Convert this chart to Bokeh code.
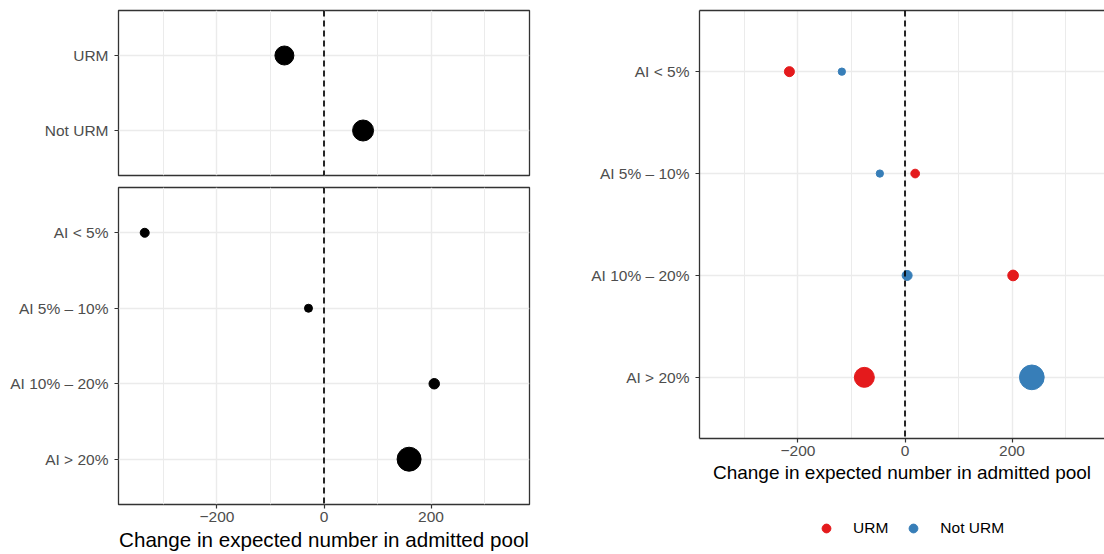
from bokeh.plotting import figure
from bokeh.models import FixedTicker, Span, Legend, LegendItem, ColumnDataSource, Range1d, LinearAxis
from bokeh.layouts import row, column
from bokeh.embed import file_html
from bokeh.resources import INLINE

# ---- data -------------------------------------------------------------
group_labels = ["URM", "Not URM"]
group_change = [-74, 73]

ai_labels = ["AI < 5%", "AI 5% – 10%", "AI 10% – 20%", "AI > 20%"]
ai_change = [-335, -29, 206, 159]

urm_change_by_ai = [-216, 19, 202, -76]
not_urm_change_by_ai = [-118, -47, 4, 237]

x_ticks = [-200, 0, 200]
x_minor_ticks = [-300, -100, 100, 300]
x_tick_text = {-200: "\u2212200", 0: "0", 200: "200"}

# ---- marker diameters (px) -------------------------------------------
group_dot = [19, 21]
ai_dot = [9, 8, 10.5, 24]
urm_dot = [10, 8.7, 10.7, 20]
not_urm_dot = [7.3, 7.3, 10, 24.7]

# ---- styling ------------------------------------------------------------
FONT = "Liberation Sans"
GRID = "#EBEBEB"
INK = "#333333"
TICK_TEXT = "#4D4D4D"
RED = "#E41A1C"
BLUE = "#377EB8"
X_START = -384
X_TITLE = "Change in expected number in admitted pool"


def panel(width, height, borders, y_labels, x_end, show_x, title_size="19px"):
    left, right, top, bottom = borders
    n = len(y_labels)
    p = figure(width=width, height=height,
               x_range=Range1d(X_START, x_end), y_range=Range1d(0.4, n + 0.6),
               output_backend="svg", toolbar_location=None,
               min_border_left=left, min_border_right=right,
               min_border_top=top, min_border_bottom=bottom)
    p.background_fill_color = "white"
    p.border_fill_color = "white"
    p.outline_line_color = INK
    p.outline_line_width = 1.3

    ys = [n - i for i in range(n)]
    p.yaxis.ticker = FixedTicker(ticks=ys)
    p.yaxis.major_label_overrides = {y: lab for y, lab in zip(ys, y_labels)}
    p.yaxis.minor_tick_line_color = None
    p.yaxis.major_tick_in = 0
    p.yaxis.major_tick_out = 4
    p.yaxis.major_tick_line_color = INK
    p.yaxis.major_tick_line_width = 1.2
    p.yaxis.axis_line_color = None
    p.yaxis.major_label_text_font = FONT
    p.yaxis.major_label_text_font_size = "15.5px"
    p.yaxis.major_label_text_color = TICK_TEXT
    p.yaxis.major_label_standoff = 6

    p.xaxis.ticker = FixedTicker(ticks=x_ticks, minor_ticks=x_minor_ticks)
    p.xaxis.major_label_overrides = x_tick_text
    p.xaxis.minor_tick_line_color = None
    p.xaxis.major_tick_in = 0
    p.xaxis.major_tick_out = 4
    p.xaxis.major_tick_line_color = INK
    p.xaxis.major_tick_line_width = 1.2
    p.xaxis.axis_line_color = None
    p.xaxis.major_label_text_font = FONT
    p.xaxis.major_label_text_font_size = "15.5px"
    p.xaxis.major_label_text_color = TICK_TEXT
    p.xaxis.major_label_standoff = 3
    p.xaxis.axis_label_text_font = FONT
    p.xaxis.axis_label_text_font_style = "normal"
    p.xaxis.axis_label_text_font_size = title_size
    p.xaxis.axis_label_text_color = "black"
    p.xaxis.axis_label_standoff = 3
    if show_x:
        p.xaxis.axis_label = X_TITLE
    else:
        p.xaxis.visible = False

    p.xgrid.grid_line_color = GRID
    p.xgrid.grid_line_width = 1.4
    p.xgrid.minor_grid_line_color = GRID
    p.xgrid.minor_grid_line_width = 1.0
    p.ygrid.grid_line_color = GRID
    p.ygrid.grid_line_width = 1.4

    p.add_layout(Span(location=0, dimension="height", line_color="black",
                      line_dash="6 4", line_width=1.7))
    return p, ys


# ---- left column: totals by group and by AI band ------------------------
top_left, ys_top = panel(540, 181, (118, 11, 10, 6), group_labels, 384, False)
top_left.scatter(x="x", y="y", size="s", color="black",
                 source=ColumnDataSource(dict(x=group_change, y=ys_top, s=group_dot)))

bottom_left, ys_ai = panel(540, 373, (118, 11, 6, 50), ai_labels, 384, True, "20.6px")
bottom_left.scatter(x="x", y="y", size="s", color="black",
                    source=ColumnDataSource(dict(x=ai_change, y=ys_ai, s=ai_dot)))

left_col = column(top_left, bottom_left)

# ---- right: AI bands split by group ------------------------------------
right_width = 564
frame_w = right_width - 159
x_end_right = X_START + frame_w * (768 / 411)
right, ys_r = panel(right_width, 496, (159, 0, 10, 58), ai_labels, x_end_right, True)
right.outline_line_color = None
right.yaxis.axis_line_color = INK
right.yaxis.axis_line_width = 1.3
right.xaxis.axis_line_color = INK
right.xaxis.axis_line_width = 1.3
top_edge = LinearAxis(ticker=FixedTicker(ticks=[]), axis_line_color=INK, axis_line_width=1.3,
                      major_tick_line_color=None, minor_tick_line_color=None,
                      major_label_text_font_size="0px")
right.add_layout(top_edge, "above")

urm_src = ColumnDataSource(dict(x=urm_change_by_ai, y=ys_r, s=urm_dot))
not_src = ColumnDataSource(dict(x=not_urm_change_by_ai, y=ys_r, s=not_urm_dot))
right.scatter(x="x", y="y", size="s", color=RED, source=urm_src)
right.scatter(x="x", y="y", size="s", color=BLUE, source=not_src)

# ---- legend strip under the right panel ---------------------------------
# The strip's own ranges keep its renderers off-canvas; only the keys show.
key = figure(width=right_width, height=58, x_range=Range1d(1000, 1001), y_range=Range1d(1000, 1001),
             output_backend="svg", toolbar_location=None,
             min_border_left=0, min_border_right=0, min_border_top=0, min_border_bottom=0)
key.axis.visible = False
key.grid.visible = False
key.outline_line_color = None
key_urm = key.scatter(x="x", y="y", color=RED, source=urm_src)
key_not = key.scatter(x="x", y="y", color=BLUE, source=not_src)
legend = Legend(items=[LegendItem(label="URM", renderers=[key_urm]),
                       LegendItem(label="Not URM", renderers=[key_not])],
                orientation="horizontal", location=(116, 15),
                border_line_color=None, background_fill_alpha=0,
                padding=0, margin=0, spacing=14, label_standoff=16,
                glyph_width=22, glyph_height=22,
                label_text_font=FONT, label_text_font_size="15.5px",
                label_text_color="black")
key.add_layout(legend, "center")

layout = row(left_col, column(right, key))

with open("out.html", "w") as f:
    f.write(file_html(layout, INLINE))
